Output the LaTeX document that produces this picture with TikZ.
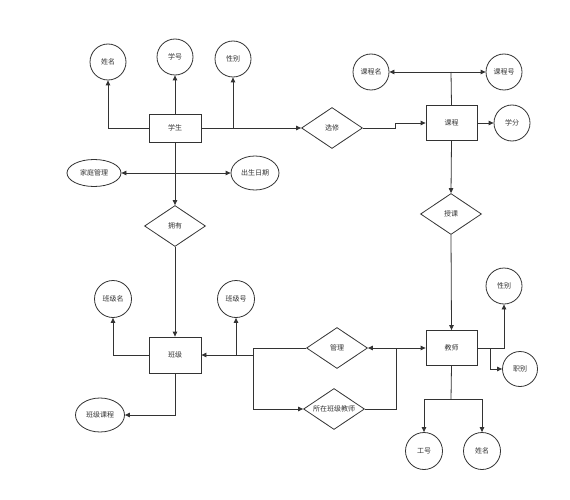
\documentclass[tikz,border=0pt]{standalone}
\usepackage{fontspec}
\newfontfamily\cjk{Noto Sans CJK SC}
\usetikzlibrary{shapes.geometric,arrows.meta}
\begin{document}
\begin{tikzpicture}[x=1pt,y=-1pt,
  every node/.style={font=\cjk\fontsize{7}{8}\selectfont, text=black!80, inner sep=0pt},
  line/.style={draw=black!80, line width=0.8pt},
  arr/.style={line, -{Triangle[length=5pt,width=4.5pt]}},
  ent/.style={draw=black!80, line width=0.8pt, rectangle, minimum width=#1},
  attr/.style={draw=black!80, line width=0.8pt, ellipse, minimum width=#1, minimum height=#1},
  oval/.style 2 args={draw=black!80, line width=0.8pt, ellipse, minimum width=#1, minimum height=#2},
  rel/.style={draw=black!80, line width=0.8pt, diamond, aspect=2, minimum width=61pt, minimum height=41pt}]
\useasboundingbox (0,0) rectangle (570,500);
% entities
\node[ent=52pt, minimum height=28pt] (stu) at (175,128) {学生};
\node[ent=52pt, minimum height=36pt] (cls) at (175,355) {班级};
\node[ent=51pt, minimum height=35pt] (tea) at (451.5,348) {教师};
\node[ent=51pt, minimum height=35pt] (crs) at (451.5,123) {课程};
% relations
\node[rel] (xx) at (332,128) {选修};
\node[rel] (yy) at (175,226) {拥有};
\node[rel] (tk) at (451,214) {授课};
\node[rel] (gl) at (337,348) {管理};
\node[rel] (sz) at (334,409) {所在班级教师};
% attributes
\node[attr=36pt] (a1) at (108,62) {姓名};
\node[attr=36pt] (a2) at (175,57) {学号};
\node[attr=36pt] (a3) at (233,59) {性别};
\node[oval={54pt}{27pt}] (jt) at (94,173) {家庭管理};
\node[oval={48pt}{34pt}] (bd) at (255,173) {出生日期};
\node[attr=37pt] (cn) at (113,299) {班级名};
\node[attr=37pt] (cno) at (236,299) {班级号};
\node[oval={49pt}{34pt}] (ck) at (100,415) {班级课程};
\node[attr=36pt] (ts) at (504,286) {性别};
\node[attr=35pt] (zb) at (520,369) {职别};
\node[attr=37pt] (gh) at (424,451) {工号};
\node[attr=37pt] (tn) at (482,451) {姓名};
\node[attr=36pt] (cm) at (371,72) {课程名};
\node[attr=36pt] (cnum) at (504,72) {课程号};
\node[attr=36pt] (xf) at (512,123) {学分};
% junction points
\coordinate (j1) at (175,173);
\coordinate (m0) at (253,348);
\coordinate (m1) at (253,355);
\coordinate (m2) at (396,348);
\coordinate (m3) at (490,348);
\coordinate (m4) at (451,399);
\coordinate (c1) at (451,72);
\coordinate (s1) at (395,128);
\coordinate (s2) at (395,123);
% student
\draw[arr] (stu.west) -| (a1.south);
\draw[arr] (stu.north) -- (a2.south);
\draw[arr] (stu.east) -| (a3.south);
\draw[arr] (stu.east) -- (xx.west);
\draw[arr] (stu.south) -- (yy.north);
\draw[arr] (j1) -- (jt.east);
\draw[arr] (j1) -- (bd.west);
% class
\draw[arr] (yy.south) -- (cls.north);
\draw[arr] (cls.west) -| (cn.south);
\draw[arr] (cls.east -| cno) -- (cno.south);
\draw[arr] (gl.west) -- (m0) -- (m1) -- (cls.east);
\draw[arr] (m1) |- (sz.west);
\draw[arr] (cls.south) |- (ck.east);
% teacher
\draw[arr] (m2) -- (gl.east);
\draw[arr] (m2) -- (tea.west);
\draw[line] (sz.east) -| (m2);
\draw[arr] (tk.south) -- (tea.north);
\draw[arr] (tea.east) -| (ts.south);
\draw[arr] (m3) |- (zb.west);
\draw[line] (tea.south) -- (m4);
\draw[arr] (m4) -| (gh.north);
\draw[arr] (m4) -| (tn.north);
% course
\draw[line] (crs.north) -- (c1);
\draw[arr] (c1) -- (cm.east);
\draw[arr] (c1) -- (cnum.west);
\draw[arr] (crs.east) -- (xf.west);
\draw[arr] (xx.east) -- (s1) -- (s2) -- (crs.west);
\draw[arr] (crs.south) -- (tk.north);
\end{tikzpicture}
\end{document}
